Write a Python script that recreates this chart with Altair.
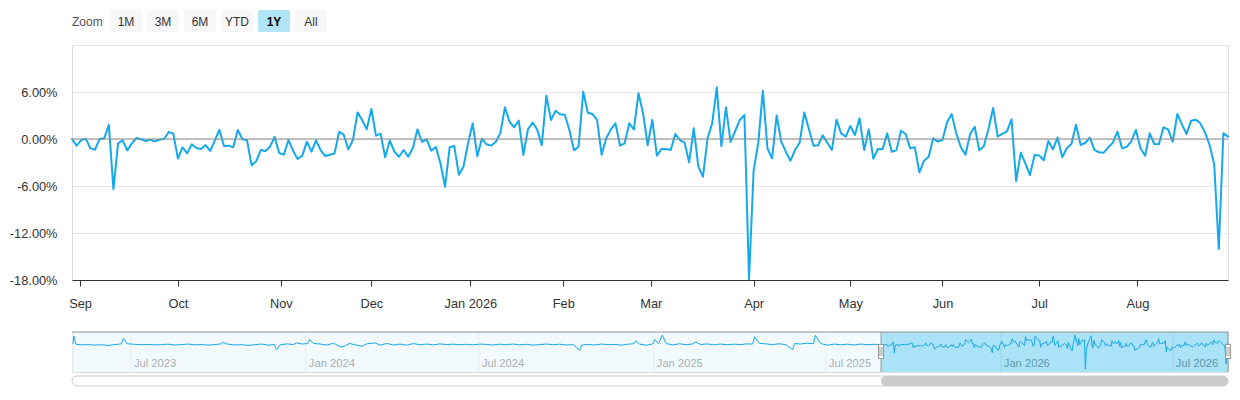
import altair as alt
import pandas as pd

# ---------------- data ----------------
daily_returns = [
    0.0, -0.85, -0.13, 0.04, -1.2, -1.36, 0.0, 0.1, 1.8, -6.4,
    -0.55, -0.17, -1.45, -0.55, 0.13, -0.04, -0.25, -0.08, -0.3, -0.08,
    0.0, 0.9, 0.68, -2.5, -1.06, -1.83, -0.68, -1.15, -1.28, -0.77,
    -1.53, -0.2,
    1.15, -0.9, -0.85, -1.06, 1.15, -0.04, -0.17, -3.36, -2.85, -1.4,
    -1.53, -0.98, 0.26, -1.79, -2.0, -0.13, -1.49, -2.55, -2.13, -0.34,
    -1.62, -0.17, -1.45, -2.17, -2.0, -1.87, 0.9, 0.55, -1.32, -0.13,
    3.4, 2.43, 1.23, 3.83, 0.43, 0.68, -2.34, -0.21, -1.62, -2.26,
    -1.4, -2.26, -1.19, 1.23, -0.38, -0.04, -1.49, -1.02, -3.1, -6.1,
    -1.06, -0.9, -4.55, -3.53, -0.55, 2.0, -2.2, 0.04, -0.68, -0.85,
    -0.38, 0.72, 4.04,
    2.2, 1.5, 2.34, -2.04, 1.23, 2.1, 1.23, -0.8, 5.53, 2.43,
    3.6, 3.15, 3.1, 1.15, -1.45, -0.98, 6.04, 3.36, 3.2, 2.43,
    -2.0, 0.09, 1.23, 2.0, -0.85, -0.55, 2.0, 1.23, 5.83, 3.28, -0.8,
    2.43, -2.13, -1.28, -1.28, -1.4, 0.64, -0.13, -0.43, -2.98, 1.36,
    -3.53, -4.8, 0.09, 2.0, 6.6, -0.9, 4.04, -0.38, 1.02, 2.43,
    3.06, -17.9, -4.04, -0.55, 6.17, -1.19, -2.47, 3.02, -0.34, -1.62,
    -2.77, -1.4,
    -0.47, 3.4, 1.28, -0.85, -0.8, 0.47, -0.47, -1.4, 2.47, 0.72,
    0.3, 1.66, 0.51, 2.64, -1.4, 1.23, -2.5, -1.28, -1.32, 0.72,
    -1.62, -1.45, 1.06, 0.64, -1.19, -1.06, -4.26, -2.77, -2.26, 0.09,
    -0.34,
    -0.13, 2.13, 3.19, 0.72, -1.06, -2.0, 0.6, 1.57, -1.45, -0.9,
    1.28, 3.96, 0.3, 0.64, 0.98, 2.51, -5.36, -1.74, -3.1, -4.6,
    -2.04, -2.09, -2.72, -0.26, -1.32, 0.21, -2.34, -1.19, -0.64, 1.83,
    -0.77, -0.51,
    0.17, -1.4, -1.7, -1.74, -1.06, -0.47, 0.94, -1.19, -1.02, -0.3,
    1.15, -1.19, -2.13, 0.72, -0.64, -0.68, 1.49, 1.23, -0.34, 3.19,
    1.87, 0.64, 2.34, 2.47, 2.0, 0.85, -0.77, -3.19, -14.04, 0.72, 0.3,
]

market_holidays = [
    "2025-09-01", "2025-11-27", "2025-12-25", "2026-01-01", "2026-01-19",
    "2026-02-16", "2026-04-03", "2026-05-25", "2026-06-19", "2026-07-03",
]

history_dates = [
    "2023-05-01", "2023-05-02", "2023-05-04", "2023-05-10", "2023-05-17", "2023-05-24",
    "2023-05-31", "2023-06-07", "2023-06-14", "2023-06-21", "2023-06-23", "2023-06-27",
    "2023-07-05", "2023-07-12", "2023-07-19", "2023-07-26", "2023-08-02", "2023-08-09",
    "2023-08-16", "2023-08-23", "2023-08-30", "2023-09-06", "2023-09-13", "2023-09-20",
    "2023-09-27", "2023-10-04", "2023-10-06", "2023-10-10", "2023-10-18", "2023-10-25",
    "2023-11-01", "2023-11-08", "2023-11-15", "2023-11-22", "2023-11-29", "2023-12-01",
    "2023-12-05", "2023-12-12", "2023-12-19", "2023-12-22", "2023-12-28", "2024-01-03",
    "2024-01-05", "2024-01-09", "2024-01-16", "2024-01-23", "2024-01-30", "2024-02-07",
    "2024-02-12", "2024-02-16", "2024-02-22", "2024-02-29", "2024-03-05", "2024-03-14",
    "2024-03-19", "2024-03-26", "2024-04-02", "2024-04-09", "2024-04-16", "2024-04-23",
    "2024-04-30", "2024-05-07", "2024-05-14", "2024-05-21", "2024-05-28", "2024-06-04",
    "2024-06-11", "2024-06-18", "2024-06-25", "2024-07-02", "2024-07-09", "2024-07-16",
    "2024-07-23", "2024-07-30", "2024-08-06", "2024-08-13", "2024-08-20", "2024-08-27",
    "2024-09-03", "2024-09-10", "2024-09-17", "2024-09-24", "2024-10-01", "2024-10-08",
    "2024-10-15", "2024-10-17", "2024-10-24", "2024-10-31", "2024-11-07", "2024-11-14",
    "2024-11-21", "2024-11-28", "2024-12-05", "2024-12-11", "2024-12-13", "2024-12-17",
    "2024-12-24", "2024-12-31", "2025-01-02", "2025-01-06", "2025-01-10", "2025-01-14",
    "2025-01-21", "2025-01-28", "2025-02-04", "2025-02-11", "2025-02-14", "2025-02-19",
    "2025-02-26", "2025-03-05", "2025-03-12", "2025-03-19", "2025-03-26", "2025-04-02",
    "2025-04-09", "2025-04-15", "2025-04-17", "2025-04-22", "2025-04-29", "2025-05-06",
    "2025-05-13", "2025-05-20", "2025-05-27", "2025-05-29", "2025-06-04", "2025-06-11",
    "2025-06-18", "2025-06-20", "2025-06-24", "2025-06-27", "2025-07-03", "2025-07-10",
    "2025-07-17", "2025-07-24", "2025-07-31", "2025-08-07", "2025-08-14", "2025-08-21",
    "2025-08-27",
]
history_values = [
    0.2, 5.9, 0.1, -0.4, -0.2, -0.6,
    -0.3, -0.8, -0.2, 0.3, 4.2, 0.4,
    0.0, -0.3, -0.1, -0.4, -0.2, 0.1,
    -0.5, -0.2, 0.2, -0.4, -0.1, -0.6,
    -0.2, 0.3, 1.5, 0.2, -0.5, -0.2,
    -0.8, -0.3, 0.2, -0.6, -0.2, -3.9,
    -0.4, 0.3, -0.2, 1.0, 0.2, 0.5,
    3.4, 0.6, 0.2, -0.5, 0.8, -2.0,
    -0.9, 0.6, -0.4, -1.5, 0.3, 1.0,
    -0.7, 0.6, -0.5, 0.2, -0.6, 0.5,
    -0.3, 0.2, -0.4, 0.3, -0.2, 0.1,
    -0.3, 0.0, -0.4, 0.2, -0.1, -0.5,
    0.1, -0.3, 0.2, -0.4, 0.0, -0.6,
    -0.2, 0.2, -0.3, 0.1, -0.5, -0.2,
    -4.4, -0.6, -0.1, -0.5, 0.2, -0.3,
    -0.1, -0.6, 0.1, 0.4, 2.5, 0.2,
    -0.7, 0.3, 3.4, 0.5, 6.6, 0.6,
    -0.5, 0.4, -0.3, 0.3, 1.7, -0.2,
    0.3, -0.4, 0.2, -0.3, 0.1, -0.2,
    0.3, 0.2, 5.4, 0.7, 0.3, -0.2,
    0.4, -0.3, -3.9, 0.5, 0.2, 0.8,
    0.4, 6.6, 1.7, 0.3, -0.6, 0.2,
    -0.4, 0.1, -0.5, 0.2, -0.3, 0.0,
    -0.2,
]

zoom_buttons = ["1M", "3M", "6M", "YTD", "1Y", "All"]
selected_button = "1Y"
y_ticks = [-18, -12, -6, 0, 6, 12]
nav_tick_months = ["2023-07-01", "2024-01-01", "2024-07-01", "2025-01-01",
                   "2025-07-01", "2026-01-01", "2026-07-01"]
nav_start = "2023-04-30"

# ---------------- derived tables ----------------
bdays = [d for d in pd.bdate_range("2025-08-28", "2026-08-28")
         if d.strftime("%Y-%m-%d") not in market_holidays]
dates = bdays[:len(daily_returns)]
main_df = pd.DataFrame({"i": list(range(len(daily_returns))), "date": dates, "v": daily_returns})

# ordinal (trading-day) positions of month starts
tick_pos, tick_lab = [], []
for m in pd.date_range("2025-09-01", dates[-1], freq="MS"):
    k = max(j for j, d in enumerate(dates) if d <= m)
    if dates[k] == m or k == len(dates) - 1:
        p = float(k)
    else:
        p = k + (m - dates[k]).days / (dates[k + 1] - dates[k]).days
    tick_pos.append(round(p, 4))
    tick_lab.append(m.strftime("%b %Y") if m.month == 1 else m.strftime("%b"))

x_label_expr = ""
for a, b, lab in zip(tick_pos[:-1], tick_pos[1:], tick_lab[:-1]):
    x_label_expr += f"datum.value < {(a + b) / 2:.4f} ? '{lab}' : "
x_label_expr += f"'{tick_lab[-1]}'"

y_label_expr = ("datum.value >= 12 ? '' : (datum.value < 0 ? '-' : '') + "
                "format(abs(datum.value), '.2f') + '%'")

FONT = "Liberation Sans, Arial, Helvetica, sans-serif"
BLUE = "#14a9ec"
W, H = 1156, 235
NH = 40

# ---------------- main chart ----------------
yscale = alt.Scale(domain=[-18, 12], nice=False, zero=False)
line = alt.Chart(main_df).mark_line(
    color=BLUE, strokeWidth=2, strokeJoin="round", strokeCap="round"
).encode(
    x=alt.X("i:Q", scale=alt.Scale(domain=[0, len(daily_returns) - 1], nice=False, zero=False),
            axis=alt.Axis(values=tick_pos, labelExpr=x_label_expr, grid=False, title=None,
                          domainColor="#333333", tickColor="#333333", tickSize=6,
                          labelPadding=11, labelFontSize=12.8, labelColor="#333333",
                          labelFont=FONT, labelFlush=False, labelOverlap=False)),
    y=alt.Y("v:Q", scale=yscale,
            axis=alt.Axis(values=y_ticks, labelExpr=y_label_expr, grid=True,
                          gridColor="#e6e6e6", domain=False, ticks=False, title=None,
                          labelPadding=15, minExtent=60, maxExtent=60,
                          labelFontSize=12.8, labelColor="#333333", labelFont=FONT)),
)
zero = alt.Chart(pd.DataFrame({"z": [0]})).mark_rule(color="#8c8c8c", strokeWidth=1).encode(
    y=alt.Y("z:Q", scale=yscale)
)

# range-selector buttons (UI layout: 32px wide buttons on a 37px pitch)
btn_df = pd.DataFrame({"label": zoom_buttons, "k": list(range(len(zoom_buttons))),
                       "sel": [b == selected_button for b in zoom_buttons]})
btn_base = alt.Chart(btn_df).transform_calculate(
    bx="38 + 37 * datum.k", bx2="70 + 37 * datum.k", bc="54 + 37 * datum.k"
)
btn_rect = btn_base.mark_rect(cornerRadius=2).encode(
    x=alt.X("bx:Q", scale=None, axis=None), x2="bx2:Q",
    y=alt.value(-35), y2=alt.value(-13),
    color=alt.condition("datum.sel", alt.value("#b2e4f7"), alt.value("#f7f7f7")),
)
btn_text = btn_base.transform_filter("!datum.sel").mark_text(
    fontSize=12, font=FONT, baseline="middle", align="center", color="#333333"
).encode(x=alt.X("bc:Q", scale=None, axis=None), y=alt.value(-23.5), text="label:N")
btn_text_sel = btn_base.transform_filter("datum.sel").mark_text(
    fontSize=12, font=FONT, baseline="middle", align="center", color="#000000",
    fontWeight="bold"
).encode(x=alt.X("bc:Q", scale=None, axis=None), y=alt.value(-23.5), text="label:N")
zoom_text = alt.Chart(pd.DataFrame({"t": ["Zoom"]})).mark_text(
    fontSize=12, font=FONT, baseline="middle", align="left", color="#555555"
).encode(x=alt.value(0), y=alt.value(-23.5), text="t:N")

main = alt.layer(line, zero, btn_rect, btn_text, btn_text_sel, zoom_text).resolve_scale(
    x="independent"
).properties(width=W, height=H)

# ---------------- navigator ----------------
nav_df = pd.concat([
    pd.DataFrame({"date": pd.to_datetime(history_dates), "v": history_values}),
    pd.DataFrame({"date": dates, "v": daily_returns}),
]).sort_values("date").reset_index(drop=True)

start_ts = pd.Timestamp(nav_start)
end_ts = dates[-1]
nav_scale = alt.Scale(
    domain=[alt.DateTime(year=start_ts.year, month=start_ts.month, date=start_ts.day),
            alt.DateTime(year=end_ts.year, month=end_ts.month, date=end_ts.day)],
    nice=False,
)
full_df = pd.DataFrame({"s": [start_ts], "e": [end_ts]})
unsel_df = pd.DataFrame({"s": [start_ts], "e": [dates[0]]})
sel_df = pd.DataFrame({"s": [dates[0]], "e": [dates[-1]]})
edge_df = pd.DataFrame({"d": [dates[0], dates[-1]]})
nav_ticks_df = pd.DataFrame({"d": pd.to_datetime(nav_tick_months)})
nav_ticks_df["lab"] = nav_ticks_df["d"].dt.strftime("%b %Y")


def nx(field):
    return alt.X(field, scale=nav_scale, axis=None)


nav_grid = alt.Chart(nav_ticks_df).mark_rule(color="#e3e3e3", strokeWidth=1).encode(
    x=nx("d:T"), y=alt.value(0), y2=alt.value(NH))
nav_labels = alt.Chart(nav_ticks_df).mark_text(
    align="left", baseline="alphabetic", dx=3, fontSize=11.2, font=FONT, color="#666666"
).encode(x=nx("d:T"), y=alt.value(NH - 5), text="lab:N")
unsel_bg = alt.Chart(unsel_df).mark_rect(color="#e5f5fd", opacity=0.5).encode(
    x=nx("s:T"), x2="e:T", y=alt.value(0), y2=alt.value(NH))
sel_bg = alt.Chart(sel_df).mark_rect(color="#55c7f1", opacity=0.5).encode(
    x=nx("s:T"), x2="e:T", y=alt.value(0), y2=alt.value(NH))
nav_line = alt.Chart(nav_df).mark_line(color=BLUE, strokeWidth=1).encode(
    x=nx("date:T"),
    y=alt.Y("v:Q", scale=alt.Scale(domain=[-19.9, 8.84], nice=False, zero=False),
            axis=alt.Axis(values=[-18], labelExpr=y_label_expr, labelOpacity=0,
                          domain=False, ticks=False, grid=False, title=None,
                          labelPadding=15, minExtent=60, maxExtent=60,
                          labelFontSize=12.8, labelFont=FONT)),
)
top_rule = alt.Chart(full_df).mark_rule(color="#999999", strokeWidth=1).encode(
    x=nx("s:T"), x2="e:T", y=alt.value(0))
edge_rule = alt.Chart(edge_df).mark_rule(color="#999999", strokeWidth=1).encode(
    x=nx("d:T"), y=alt.value(0), y2=alt.value(NH))
handle_outer = alt.Chart(edge_df).mark_rule(color="#999999", strokeWidth=6, strokeCap="butt").encode(
    x=nx("d:T"), y=alt.value(12), y2=alt.value(27))
handle_inner = alt.Chart(edge_df).mark_rule(color="#ffffff", strokeWidth=4, strokeCap="butt").encode(
    x=nx("d:T"), y=alt.value(13), y2=alt.value(26))
grip_l = alt.Chart(edge_df).mark_rule(color="#999999", strokeWidth=1, xOffset=-1).encode(
    x=nx("d:T"), y=alt.value(15), y2=alt.value(24))
grip_r = alt.Chart(edge_df).mark_rule(color="#999999", strokeWidth=1, xOffset=1).encode(
    x=nx("d:T"), y=alt.value(15), y2=alt.value(24))
track = alt.Chart(full_df).mark_rect(
    fill="#ffffff", stroke="#cccccc", strokeWidth=1, cornerRadius=5
).encode(x=nx("s:T"), x2="e:T", y=alt.value(44), y2=alt.value(54))
thumb = alt.Chart(sel_df).mark_rect(fill="#cccccc", cornerRadius=5).encode(
    x=nx("s:T"), x2="e:T", y=alt.value(44), y2=alt.value(54))

nav = alt.layer(nav_grid, nav_labels, unsel_bg, sel_bg, nav_line, top_rule, edge_rule,
                handle_outer, handle_inner, grip_l, grip_r, track, thumb
                ).properties(width=W, height=NH)

chart = alt.vconcat(main, nav, spacing=20).resolve_scale(
    x="independent", y="independent"
).properties(
    padding={"left": 0, "top": 1, "right": 0, "bottom": 2}
).configure_view(strokeWidth=0).configure(font=FONT)

chart.save("out.html", embed_options={"renderer": "svg", "actions": False})
